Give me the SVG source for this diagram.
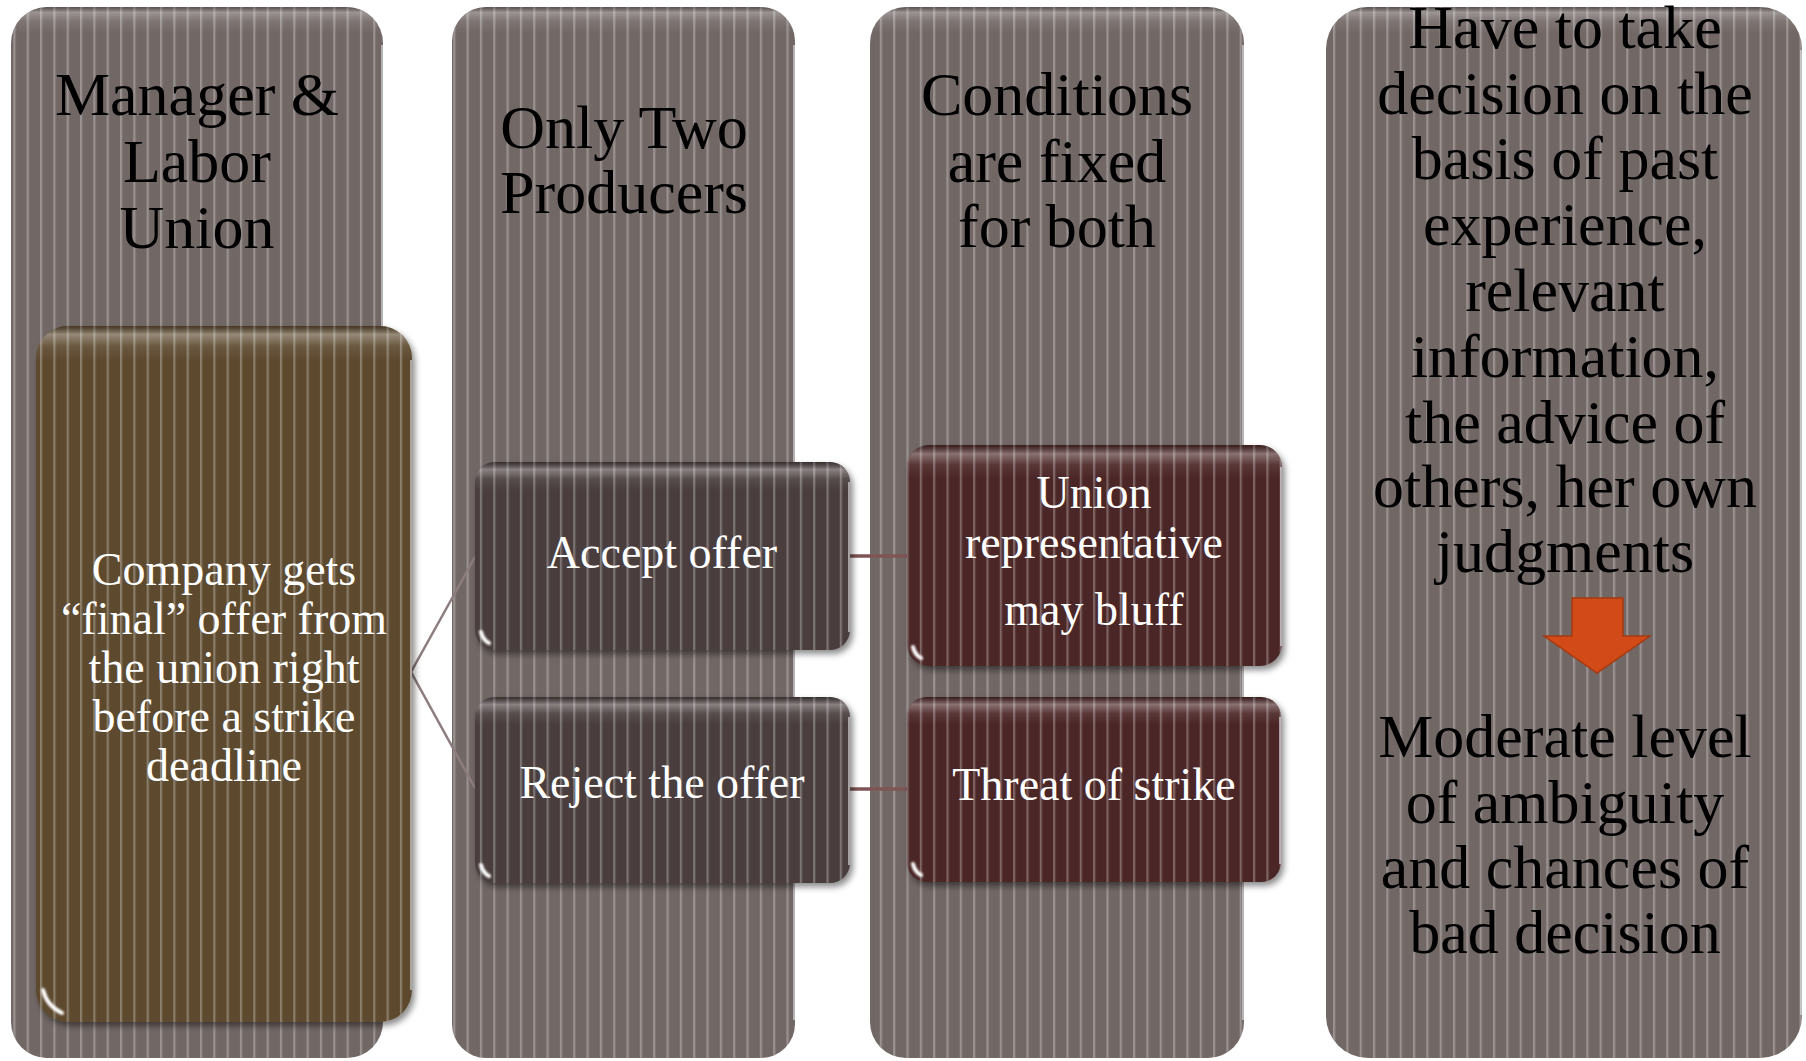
<svg xmlns="http://www.w3.org/2000/svg" width="1806" height="1061" viewBox="0 0 1806 1061">
  <style>
    .title { font-family: "Liberation Serif", "Times New Roman", serif; font-size: 62px; fill: #000; text-anchor: middle; }
    .label { font-family: "Liberation Serif", "Times New Roman", serif; font-size: 46px; fill: #fff; text-anchor: middle; }
    .col { fill: #716765; }
    .stripes { fill: url(#stripes); }
    .edge { stroke: #e4e6ec; stroke-opacity: 0.75; stroke-width: 1.6; fill: none; }
    .glint { stroke: #fff; stroke-width: 4; stroke-linecap: round; fill: none; filter: url(#soft); }
    .fork { stroke: #8e7d7e; stroke-width: 2.5; fill: none; }
    .link { stroke: #7e5454; stroke-width: 3.5; fill: none; }
  </style>
  <defs>
    <!-- fine vertical pinstripe texture shared by every shape -->
    <pattern id="stripes" patternUnits="userSpaceOnUse" width="13.33" height="20">
      <rect x="0" y="0" width="1.7" height="20" fill="#fff" fill-opacity="0.3"/>
      <rect x="1.7" y="0" width="1.2" height="20" fill="#fff" fill-opacity="0.1"/>
    </pattern>
    <!-- top bevel highlights, one per shape height -->
    <linearGradient id="bevelCol" x1="0" y1="0" x2="0" y2="1">
      <stop offset="0" stop-color="#000" stop-opacity="0.2"/>
      <stop offset="0.005" stop-color="#fff" stop-opacity="0.3"/>
      <stop offset="0.013" stop-color="#fff" stop-opacity="0.1"/>
      <stop offset="0.025" stop-color="#fff" stop-opacity="0"/>
    </linearGradient>
    <linearGradient id="bevelBig" x1="0" y1="0" x2="0" y2="1">
      <stop offset="0" stop-color="#000" stop-opacity="0.25"/>
      <stop offset="0.012" stop-color="#fff" stop-opacity="0.35"/>
      <stop offset="0.03" stop-color="#fff" stop-opacity="0.08"/>
      <stop offset="0.05" stop-color="#fff" stop-opacity="0"/>
    </linearGradient>
    <linearGradient id="bevelSmall" x1="0" y1="0" x2="0" y2="1">
      <stop offset="0" stop-color="#000" stop-opacity="0.25"/>
      <stop offset="0.04" stop-color="#fff" stop-opacity="0.35"/>
      <stop offset="0.09" stop-color="#fff" stop-opacity="0.08"/>
      <stop offset="0.15" stop-color="#fff" stop-opacity="0"/>
    </linearGradient>
    <filter id="shadow" x="-10%" y="-10%" width="125%" height="125%">
      <feDropShadow dx="3" dy="4" stdDeviation="3" flood-color="#000" flood-opacity="0.45"/>
    </filter>
    <filter id="soft" x="-50%" y="-50%" width="200%" height="200%">
      <feGaussianBlur stdDeviation="0.9"/>
    </filter>
  </defs>

  <!-- background columns -->
  <g id="col-manager">
    <rect class="col" x="11" y="7" width="372" height="1051" rx="36"/>
    <rect class="stripes" x="11" y="7" width="372" height="1051" rx="36"/>
    <rect x="11" y="7" width="372" height="1051" rx="36" fill="url(#bevelCol)"/>
    <line class="edge" x1="382" y1="45" x2="382" y2="1020"/>
    <text class="title" x="197" y="115">Manager &amp;</text>
    <text class="title" x="197" y="182">Labor</text>
    <text class="title" x="197" y="248">Union</text>
  </g>
  <g id="col-producers">
    <rect class="col" x="452" y="7" width="343" height="1051" rx="34"/>
    <rect class="stripes" x="452" y="7" width="343" height="1051" rx="34"/>
    <rect x="452" y="7" width="343" height="1051" rx="34" fill="url(#bevelCol)"/>
    <line class="edge" x1="794" y1="45" x2="794" y2="1020"/>
    <text class="title" x="624" y="148">Only Two</text>
    <text class="title" x="624" y="213">Producers</text>
  </g>
  <g id="col-conditions">
    <rect class="col" x="870" y="7" width="374" height="1051" rx="36"/>
    <rect class="stripes" x="870" y="7" width="374" height="1051" rx="36"/>
    <rect x="870" y="7" width="374" height="1051" rx="36" fill="url(#bevelCol)"/>
    <line class="edge" x1="1243" y1="45" x2="1243" y2="1020"/>
    <text class="title" x="1057" y="115">Conditions</text>
    <text class="title" x="1057" y="182">are fixed</text>
    <text class="title" x="1057" y="247">for both</text>
  </g>
  <g id="col-decision">
    <rect class="col" x="1326" y="7" width="476" height="1051" rx="42"/>
    <rect class="stripes" x="1326" y="7" width="476" height="1051" rx="42"/>
    <rect x="1326" y="7" width="476" height="1051" rx="42" fill="url(#bevelCol)"/>
    <line class="edge" x1="1801" y1="50" x2="1801" y2="1015"/>
    <text class="title" x="1565" y="48">Have to take</text>
    <text class="title" x="1565" y="114">decision on the</text>
    <text class="title" x="1565" y="179">basis of past</text>
    <text class="title" x="1565" y="245">experience,</text>
    <text class="title" x="1565" y="311">relevant</text>
    <text class="title" x="1565" y="377">information,</text>
    <text class="title" x="1565" y="443">the advice of</text>
    <text class="title" x="1565" y="507">others, her own</text>
    <text class="title" x="1565" y="572">judgments</text>
    <polygon points="1572,598 1623,598 1623,636 1650,636 1597,673 1544,636 1572,636" fill="#d24a18" stroke="#a53a12" stroke-width="1.5"/>
    <text class="title" x="1565" y="757">Moderate level</text>
    <text class="title" x="1565" y="823">of ambiguity</text>
    <text class="title" x="1565" y="888">and chances of</text>
    <text class="title" x="1565" y="953">bad decision</text>
  </g>

  <!-- connectors -->
  <g id="connectors">
    <polyline class="fork" points="475,557 411,672 475,788"/>
    <line class="link" x1="850" y1="556" x2="907" y2="556"/>
    <line class="link" x1="850" y1="789" x2="907" y2="789"/>
  </g>

  <!-- nodes -->
  <g id="node-company">
    <rect x="36" y="326" width="376" height="696" rx="32" fill="#5b4a2e" filter="url(#shadow)"/>
    <rect class="stripes" x="36" y="326" width="376" height="696" rx="32"/>
    <rect x="36" y="326" width="376" height="696" rx="32" fill="url(#bevelBig)"/>
    <line class="edge" x1="411" y1="360" x2="411" y2="990"/>
    <path class="glint" d="M43,990 Q47,1006 62,1013"/>
    <text class="label" x="224" y="585">Company gets</text>
    <text class="label" x="224" y="634">“final” offer from</text>
    <text class="label" x="224" y="683">the union right</text>
    <text class="label" x="224" y="732">before a strike</text>
    <text class="label" x="224" y="781">deadline</text>
  </g>
  <g id="node-accept">
    <rect x="475" y="462" width="375" height="188" rx="20" fill="#483e3e" filter="url(#shadow)"/>
    <rect class="stripes" x="475" y="462" width="375" height="188" rx="20"/>
    <rect x="475" y="462" width="375" height="188" rx="20" fill="url(#bevelSmall)"/>
    <line class="edge" x1="849" y1="482" x2="849" y2="632"/>
    <path class="glint" d="M481,632 Q483,640 489,643"/>
    <text class="label" x="662" y="568">Accept offer</text>
  </g>
  <g id="node-reject">
    <rect x="475" y="697" width="375" height="186" rx="20" fill="#483e3e" filter="url(#shadow)"/>
    <rect class="stripes" x="475" y="697" width="375" height="186" rx="20"/>
    <rect x="475" y="697" width="375" height="186" rx="20" fill="url(#bevelSmall)"/>
    <line class="edge" x1="849" y1="717" x2="849" y2="865"/>
    <path class="glint" d="M481,865 Q483,873 489,876"/>
    <text class="label" x="662" y="798">Reject the offer</text>
  </g>
  <g id="node-bluff">
    <rect x="907" y="445" width="375" height="221" rx="22" fill="#4b2526" filter="url(#shadow)"/>
    <rect class="stripes" x="907" y="445" width="375" height="221" rx="22"/>
    <rect x="907" y="445" width="375" height="221" rx="22" fill="url(#bevelSmall)"/>
    <line class="edge" x1="1281" y1="467" x2="1281" y2="646"/>
    <path class="glint" d="M913,647 Q915,655 921,658"/>
    <text class="label" x="1094" y="508">Union</text>
    <text class="label" x="1094" y="558">representative</text>
    <text class="label" x="1094" y="625">may bluff</text>
  </g>
  <g id="node-strike">
    <rect x="907" y="697" width="374" height="185" rx="20" fill="#4b2526" filter="url(#shadow)"/>
    <rect class="stripes" x="907" y="697" width="374" height="185" rx="20"/>
    <rect x="907" y="697" width="374" height="185" rx="20" fill="url(#bevelSmall)"/>
    <line class="edge" x1="1280" y1="717" x2="1280" y2="864"/>
    <path class="glint" d="M913,864 Q915,872 921,875"/>
    <text class="label" x="1094" y="800">Threat of strike</text>
  </g>
</svg>
